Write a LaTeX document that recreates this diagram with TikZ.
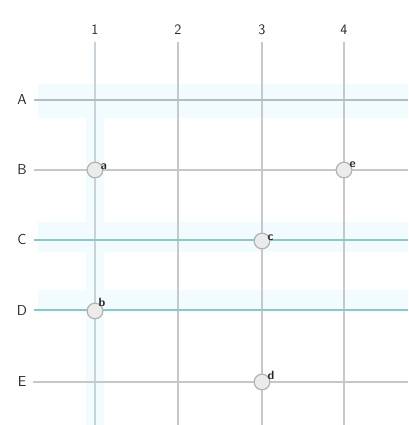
\documentclass[tikz,border=0pt]{standalone}
\usepackage{tikz}
\usetikzlibrary{positioning}
\tikzset{
    axislabel/.style={font=\sffamily\Large, inner sep=1pt, text=black!85},
    gridline/.style={draw=black!22, line width=1.8pt},
    tealline/.style={draw=teal!45, line width=1.5pt},
    band/.style={fill=cyan!5, draw=none},
    point/.style={circle, draw=black!30, fill=black!8, line width=1.2pt, minimum size=5.5mm, inner sep=0pt},
    ptlabel/.style={font=\sffamily\large\bfseries, inner sep=0.5pt, text=black!85}
}

\begin{document}
\begin{tikzpicture}[x=1pt, y=-1pt]
    \useasboundingbox (0,0) rectangle (408,425);

    % light bands
    \fill[band] (38,84) rectangle (408,118);
    \fill[band] (38,222) rectangle (408,252);
    \fill[band] (38,290) rectangle (408,312);
    \fill[band] (86,84) rectangle (104,425);

    % column and row labels
    \node[axislabel] (c1) at (95,30) {1};
    \node[axislabel] (c2) at (178,30) {2};
    \node[axislabel] (c3) at (262,30) {3};
    \node[axislabel] (c4) at (344,30) {4};
    \node[axislabel] (rA) at (22,100) {A};
    \node[axislabel] (rB) at (22,170) {B};
    \node[axislabel] (rC) at (22,240) {C};
    \node[axislabel] (rD) at (22,310) {D};
    \node[axislabel] (rE) at (22,382) {E};

    % line ends
    \coordinate (e1) at (95,425);
    \coordinate (e2) at (178,425);
    \coordinate (e3) at (262,425);
    \coordinate (e4) at (344,425);
    \coordinate (eA) at (408,100);
    \coordinate (eB) at (408,170);
    \coordinate (eC) at (408,240);
    \coordinate (eD) at (408,310);
    \coordinate (eE) at (408,382);

    % grid
    \draw[gridline, draw=cyan!30!black!25] (c1.south) ++(0,6) -- (e1);
    \draw[gridline] (c2.south) ++(0,6) -- (e2);
    \draw[gridline, draw=blue!20!black!22] (c3.south) ++(0,6) -- (e3);
    \draw[gridline] (c4.south) ++(0,6) -- (e4);
    \draw[tealline, draw=teal!30!black!30] (rA.east) ++(6,0) -- (eA);
    \draw[gridline] (rB.east) ++(6,0) -- (eB);
    \draw[tealline] (rC.east) ++(6,0) -- (eC);
    \draw[tealline] (rD.east) ++(6,0) -- (eD);
    \draw[gridline] (rE.east) ++(6,0) -- (eE);

    % points
    \node[point] (a) at (95,170) {};
    \node[point] (b) at (95,311) {};
    \node[point] (c) at (262,241) {};
    \node[point] (d) at (262,382) {};
    \node[point] (e) at (344,170) {};
    \node[ptlabel, above right=-6pt and -1pt of a] {a};
    \node[ptlabel, above right=-2pt and -3pt of b] {b};
    \node[ptlabel, above right=-6pt and -1pt of c] {c};
    \node[ptlabel, above right=-4pt and -1pt of d] {d};
    \node[ptlabel, above right=-4pt and -1pt of e] {e};
\end{tikzpicture}
\end{document}
